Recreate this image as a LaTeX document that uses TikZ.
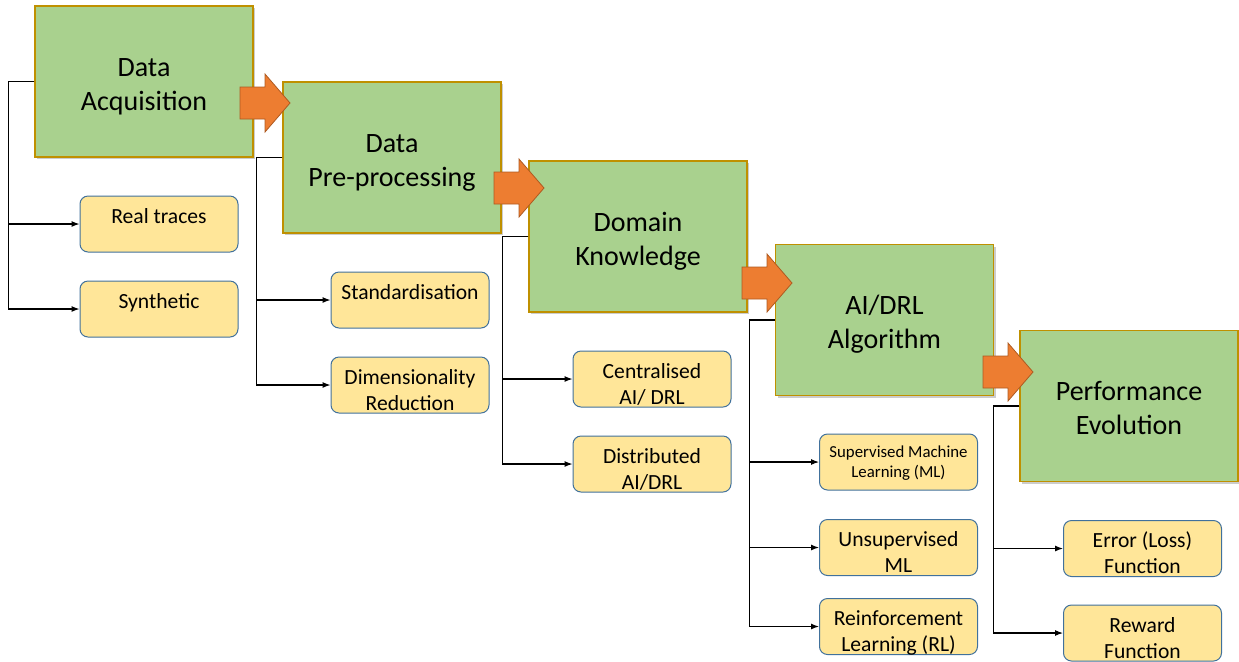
\documentclass[tikz,border=0pt]{standalone}
\usepackage{fontspec}
\setmainfont{Carlito}
\usetikzlibrary{arrows.meta}
\usetikzlibrary{shadows}

\definecolor{stagegreen}{HTML}{A9D18E}
\definecolor{stageedge}{HTML}{BF9000}
\definecolor{itemyellow}{HTML}{FFE699}
\definecolor{itemedge}{HTML}{41719C}
\definecolor{flowfill}{HTML}{ED7D31}
\definecolor{flowedge}{HTML}{AE5A21}

\tikzset{
  stagebox/.style={draw=stageedge, fill=stagegreen, line width=0.6pt,
    minimum width=109pt, minimum height=75.5pt, inner sep=0pt, align=center,
    text height=52pt, text depth=23.5pt,
    font=\fontsize{14}{17}\selectfont,
    drop shadow={shadow xshift=1pt, shadow yshift=-1.2pt, fill=black, opacity=0.2}},
  itembox/.style={draw=itemedge, fill=itemyellow, rounded corners=4pt, line width=0.5pt,
    minimum width=79pt, minimum height=28pt, inner sep=0pt, align=center,
    text height=26.5pt, text depth=1.5pt,
    font=\fontsize{10.8}{13}\selectfont},
  oneline/.style={text height=13.5pt, text depth=14.5pt},
  smalltext/.style={text height=21.5pt, text depth=6.5pt, font=\fontsize{8.4}{10}\selectfont},
  branch/.style={-{Latex[length=4pt,width=3pt]}, line width=0.55pt},
  flowarrow/.pic={
    \draw[fill=flowfill, draw=flowedge, line width=0.4pt]
      (0,-16) -- (25,-16) -- (25,-29) -- (50,0) -- (25,29) -- (25,16) -- (0,16) -- cycle;}
}

\begin{document}
\begin{tikzpicture}[x=0.5pt, y=-0.5pt]
  \useasboundingbox (0,0) rectangle (1239,661);

  % stages
  \node[stagebox] (acq) at (144,81.5) {Data\\Acquisition};
  \node[stagebox] (pre) at (392,157.5) {Data\\Pre-processing};
  \node[stagebox] (dom) at (638,236.5) {Domain\\Knowledge};
  \node[stagebox] (alg) at (884.5,320) {AI/DRL\\Algorithm};
  \node[stagebox] (perf) at (1129,406) {Performance\\Evolution};

  % sub-items
  \node[itembox,oneline] (traces) at (159,224) {Real traces};
  \node[itembox,oneline] (synth) at (159,309) {Synthetic};
  \node[itembox,oneline] (stand) at (410,300) {Standardisation};
  \node[itembox] (dimred) at (410,385) {Dimensionality\\Reduction};
  \node[itembox] (central) at (652,379) {Centralised\\AI/ DRL};
  \node[itembox] (distrib) at (652,464) {Distributed\\AI/DRL};
  \node[itembox,smalltext] (superv) at (898.5,462) {Supervised Machine\\Learning (ML)};
  \node[itembox] (unsup) at (898.5,547.5) {Unsupervised\\ML};
  \node[itembox] (reinf) at (898.5,626.5) {Reinforcement\\Learning (RL)};
  \node[itembox] (loss) at (1142.5,548.5) {Error (Loss)\\Function};
  \node[itembox] (reward) at (1142.5,633) {Reward\\Function};

  % flow between stages
  \pic at (240,103) {flowarrow};
  \pic at (494,188) {flowarrow};
  \pic at (742,283) {flowarrow};
  \pic at (983,372) {flowarrow};

  % branches
  \draw[branch] (acq.west) -- ++(-26,0) |- (traces.west);
  \draw[branch] (acq.west) -- ++(-26,0) |- (synth.west);
  \draw[branch] (pre.west) -- ++(-26,0) |- (stand.west);
  \draw[branch] (pre.west) -- ++(-26,0) |- (dimred.west);
  \draw[branch] (dom.west) -- ++(-26,0) |- (central.west);
  \draw[branch] (dom.west) -- ++(-26,0) |- (distrib.west);
  \draw[branch] (alg.west) -- ++(-25,0) |- (superv.west);
  \draw[branch] (alg.west) -- ++(-25,0) |- (unsup.west);
  \draw[branch] (alg.west) -- ++(-25,0) |- (reinf.west);
  \draw[branch] (perf.west) -- ++(-26,0) |- (loss.west);
  \draw[branch] (perf.west) -- ++(-26,0) |- (reward.west);
\end{tikzpicture}
\end{document}
